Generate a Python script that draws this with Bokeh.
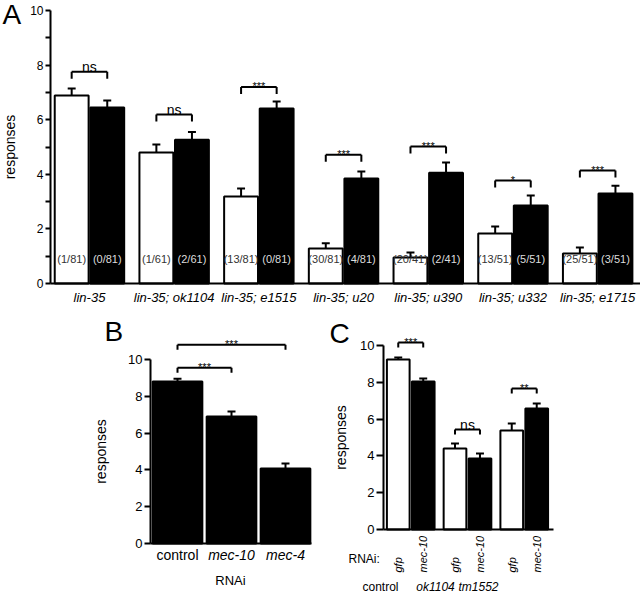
import numpy as np
from bokeh.plotting import figure
from bokeh.models import FixedTicker, Range1d
from bokeh.layouts import column, row
from bokeh.embed import file_html
from bokeh.resources import INLINE
from bokeh.core.properties import value

FONT = "Liberation Sans"

# ---------------- Panel A data ----------------
a_groups = ["lin-35", "lin-35; ok1104", "lin-35; e1515", "lin-35; u20",
            "lin-35; u390", "lin-35; u332", "lin-35; e1715"]
a_white = [6.89, 4.80, 3.19, 1.28, 0.95, 1.83, 1.10]
a_white_err = [0.25, 0.29, 0.29, 0.19, 0.19, 0.26, 0.22]
a_black = [6.45, 5.27, 6.41, 3.85, 4.06, 2.86, 3.30]
a_black_err = [0.25, 0.28, 0.26, 0.25, 0.37, 0.36, 0.28]
a_white_n = ["(1/81)", "(1/61)", "(13/81)", "(30/81)", "(20/41)", "(13/51)", "(25/51)"]
a_black_n = ["(0/81)", "(2/61)", "(0/81)", "(4/81)", "(2/41)", "(5/51)", "(3/51)"]
a_sig = ["ns", "ns", "***", "***", "***", "*", "***"]
a_sig_y = [7.76, 6.19, 7.20, 4.72, 5.02, 3.77, 4.14]

# ---------------- Panel B data ----------------
b_cats = ["control", "mec-10", "mec-4"]
b_vals = [8.80, 6.90, 4.07]
b_err = [0.15, 0.27, 0.28]
b_sig_from = [0, 0]
b_sig_to = [1, 2]
b_sig = ["***", "***"]
b_sig_y = [9.55, 10.80]

# ---------------- Panel C data ----------------
c_groups = ["control", "ok1104", "tm1552"]
c_bar_labels = ["gfp", "mec-10"]
c_white = [9.24, 4.40, 5.38]
c_white_err = [0.11, 0.27, 0.38]
c_black = [8.05, 3.86, 6.58]
c_black_err = [0.15, 0.27, 0.27]
c_sig = ["***", "ns", "**"]
c_sig_y = [10.16, 5.43, 7.66]

y_ticks = [0, 2, 4, 6, 8, 10]
y_minor = [1, 3, 5, 7, 9]


class Panel:
    """Maps page pixels of a panel to its data coordinates."""
    def __init__(self, ox, oy, w, h, ax_px, ax_val, x_ppu, zero_py, y_ppu):
        self.ox, self.oy, self.w, self.h = ox, oy, w, h
        self.ax_px, self.ax_val, self.x_ppu = ax_px, ax_val, x_ppu
        self.zero_py, self.y_ppu = zero_py, y_ppu

    def x(self, px):
        return self.ax_val + (px - self.ax_px) / self.x_ppu

    def y(self, py):
        return (self.zero_py - py) / self.y_ppu

    def fig(self):
        p = figure(width=self.w, height=self.h,
                   x_range=Range1d(self.x(self.ox), self.x(self.ox + self.w)),
                   y_range=Range1d(self.y(self.oy + self.h), self.y(self.oy)),
                   output_backend="svg", toolbar_location=None,
                   min_border=0, min_border_left=0, min_border_right=0,
                   min_border_top=0, min_border_bottom=0)
        p.outline_line_color = None
        p.xgrid.visible = False
        p.ygrid.visible = False
        p.background_fill_color = "white"
        p.border_fill_color = "white"
        for ax in (p.xaxis[0], p.yaxis[0]):
            ax.axis_line_width = 2
            ax.axis_line_color = "black"
            ax.major_tick_line_color = "black"
            ax.major_tick_line_width = 2
            ax.minor_tick_line_color = "black"
            ax.minor_tick_line_width = 2
            ax.major_tick_in = 0
            ax.minor_tick_in = 0
            ax.major_label_text_font = FONT
            ax.axis_label_text_font = FONT
            ax.axis_label_text_font_style = "normal"
            ax.major_label_text_color = "black"
            ax.axis_label_text_color = "black"
        p.xaxis.major_tick_out = 0
        p.xaxis.minor_tick_out = 0
        p.yaxis.fixed_location = self.ax_val
        p.yaxis.bounds = (0, 10)
        p.xaxis.fixed_location = 0
        return p


def txt(p, xs, ys, texts, size, align="center", baseline="middle", style="normal",
        color="black", angle=0.0):
    p.text(x=list(xs), y=list(ys), text=list(texts), text_align=align,
           text_baseline=baseline, text_font=value(FONT), text_font_size=size,
           text_font_style=style, text_color=color, angle=angle)


def errbars(p, xs, tops, errs, half):
    xs = np.asarray(xs, float)
    tops = np.asarray(tops, float)
    ends = tops + np.asarray(errs, float)
    p.segment(x0=xs, y0=tops, x1=xs, y1=ends, line_color="black", line_width=2)
    p.segment(x0=xs - half, y0=ends, x1=xs + half, y1=ends, line_color="black", line_width=2)


def brackets(p, P, x0s, x1s, ys, texts, drop_px, ns_size, star_size):
    x0s = np.asarray(x0s, float)
    x1s = np.asarray(x1s, float)
    ys = np.asarray(ys, float)
    drop = drop_px / P.y_ppu
    p.segment(x0=x0s, y0=ys, x1=x1s, y1=ys, line_color="black", line_width=2)
    p.segment(x0=x0s, y0=ys, x1=x0s, y1=ys - drop, line_color="black", line_width=2)
    p.segment(x0=x1s, y0=ys, x1=x1s, y1=ys - drop, line_color="black", line_width=2)
    mids = (x0s + x1s) / 2
    for m, y, t in zip(mids, ys, texts):
        if t == "ns":
            txt(p, [m], [y + 5 / P.y_ppu], [t], ns_size, baseline="alphabetic")
        else:
            txt(p, [m], [y + 0.5 / P.y_ppu], [t], star_size, baseline="alphabetic")


# ================= Panel A =================
PA = Panel(0, 0, 640, 316, ax_px=50, ax_val=-0.46, x_ppu=84.7, zero_py=283, y_ppu=27.3)
pa = PA.fig()
xa = np.arange(len(a_groups))
off_a = 0.21
pa.vbar(x=xa - off_a, top=a_white, width=0.40, fill_color="white", line_color="black", line_width=2)
pa.vbar(x=xa + off_a, top=a_black, width=0.40, fill_color="black", line_color="black", line_width=2)
errbars(pa, xa - off_a, a_white, a_white_err, 0.047)
errbars(pa, xa + off_a, a_black, a_black_err, 0.047)
txt(pa, xa - off_a, [PA.y(258)] * len(xa), a_white_n, "11px", color="#333333")
txt(pa, xa + off_a, [PA.y(258)] * len(xa), a_black_n, "11px", color="#dddddd")
brackets(pa, PA, xa - off_a, xa + off_a, a_sig_y, a_sig, 7, "14px", "11px")

pa.xaxis.bounds = (-0.46, PA.x(640))
pa.xaxis.ticker = FixedTicker(ticks=list(range(len(a_groups))))
pa.xaxis.major_label_overrides = {i: g for i, g in enumerate(a_groups)}
pa.xaxis.major_label_text_font_style = "italic"
pa.xaxis.major_label_text_font_size = "13px"
pa.xaxis.major_label_standoff = 6
pa.yaxis.ticker = FixedTicker(ticks=y_ticks, minor_ticks=y_minor)
pa.yaxis.major_tick_out = 5
pa.yaxis.minor_tick_out = 5
pa.yaxis.major_label_standoff = 2
pa.yaxis.major_label_text_font_size = "12px"
pa.yaxis.axis_label = "responses"
pa.yaxis.axis_label_text_font_size = "14px"
pa.yaxis.axis_label_standoff = 9
txt(pa, [PA.x(2)], [PA.y(-2)], ["A"], "28px", align="left", baseline="top")

# ================= Panel B =================
PB = Panel(0, 316, 320, 280, ax_px=150, ax_val=-0.5, x_ppu=54.0, zero_py=543, y_ppu=18.4)
pb = PB.fig()
xb = np.arange(len(b_cats))
pb.vbar(x=xb, top=b_vals, width=0.92, fill_color="black", line_color="black", line_width=2)
errbars(pb, xb, b_vals, b_err, 0.074)
brackets(pb, PB, xb[b_sig_from], xb[b_sig_to], b_sig_y, b_sig, 5, "14px", "11px")
pb.xaxis.bounds = (-0.5, 2.48)
pb.xaxis.ticker = FixedTicker(ticks=list(range(len(b_cats))))
pb.xaxis.major_label_overrides = {i: "" for i in range(len(b_cats))}
txt(pb, xb[:1], [PB.y(554)], b_cats[:1], "14px")
txt(pb, xb[1:], [PB.y(554)] * 2, b_cats[1:], "14px", style="italic")
txt(pb, [PB.x(230)], [PB.y(580)], ["RNAi"], "13px")
pb.yaxis.ticker = FixedTicker(ticks=y_ticks)
pb.yaxis.major_tick_out = 6
pb.yaxis.major_label_standoff = 2
pb.yaxis.major_label_text_font_size = "13px"
pb.yaxis.axis_label = "responses"
pb.yaxis.axis_label_text_font_size = "14px"
pb.yaxis.axis_label_standoff = 16
txt(pb, [PB.x(104)], [PB.y(315)], ["B"], "28px", align="left", baseline="top")

# ================= Panel C =================
PC = Panel(320, 316, 320, 280, ax_px=383, ax_val=-0.48, x_ppu=56.75, zero_py=529, y_ppu=18.4)
pc = PC.fig()
xc = np.arange(len(c_groups))
off_c = 0.22
pc.vbar(x=xc - off_c, top=c_white, width=0.40, fill_color="white", line_color="black", line_width=2)
pc.vbar(x=xc + off_c, top=c_black, width=0.40, fill_color="black", line_color="black", line_width=2)
errbars(pc, xc - off_c, c_white, c_white_err, 0.07)
errbars(pc, xc + off_c, c_black, c_black_err, 0.07)
brackets(pc, PC, xc - off_c, xc + off_c, c_sig_y, c_sig, 5, "14px", "11px")
pc.xaxis.bounds = (-0.48, PC.x(553))
pc.xaxis.ticker = FixedTicker(ticks=list(range(len(c_groups))))
pc.xaxis.major_label_overrides = {i: "" for i in range(len(c_groups))}
bar_x = np.concatenate([xc - off_c, xc + off_c])
bar_t = [c_bar_labels[0]] * len(xc) + [c_bar_labels[1]] * len(xc)
txt(pc, bar_x, [PC.y(572)] * len(bar_x), bar_t, "11px", align="left",
    style="italic", angle=np.pi / 2)
txt(pc, [PC.x(380)], [PC.y(586)], c_groups[:1], "12px")
txt(pc, [PC.x(435), PC.x(478)], [PC.y(586)] * 2, c_groups[1:], "12px", style="italic")
txt(pc, [PC.x(348)], [PC.y(558)], ["RNAi:"], "12px", align="left")
pc.yaxis.ticker = FixedTicker(ticks=y_ticks)
pc.yaxis.major_tick_out = 7
pc.yaxis.major_label_standoff = 2
pc.yaxis.major_label_text_font_size = "13px"
pc.yaxis.axis_label = "responses"
pc.yaxis.axis_label_text_font_size = "14px"
pc.yaxis.axis_label_standoff = 8
txt(pc, [PC.x(329)], [PC.y(317)], ["C"], "28px", align="left", baseline="top")

layout = column(pa, row(pb, pc, spacing=0), spacing=0)
open("out.html", "w").write(file_html(layout, INLINE))
